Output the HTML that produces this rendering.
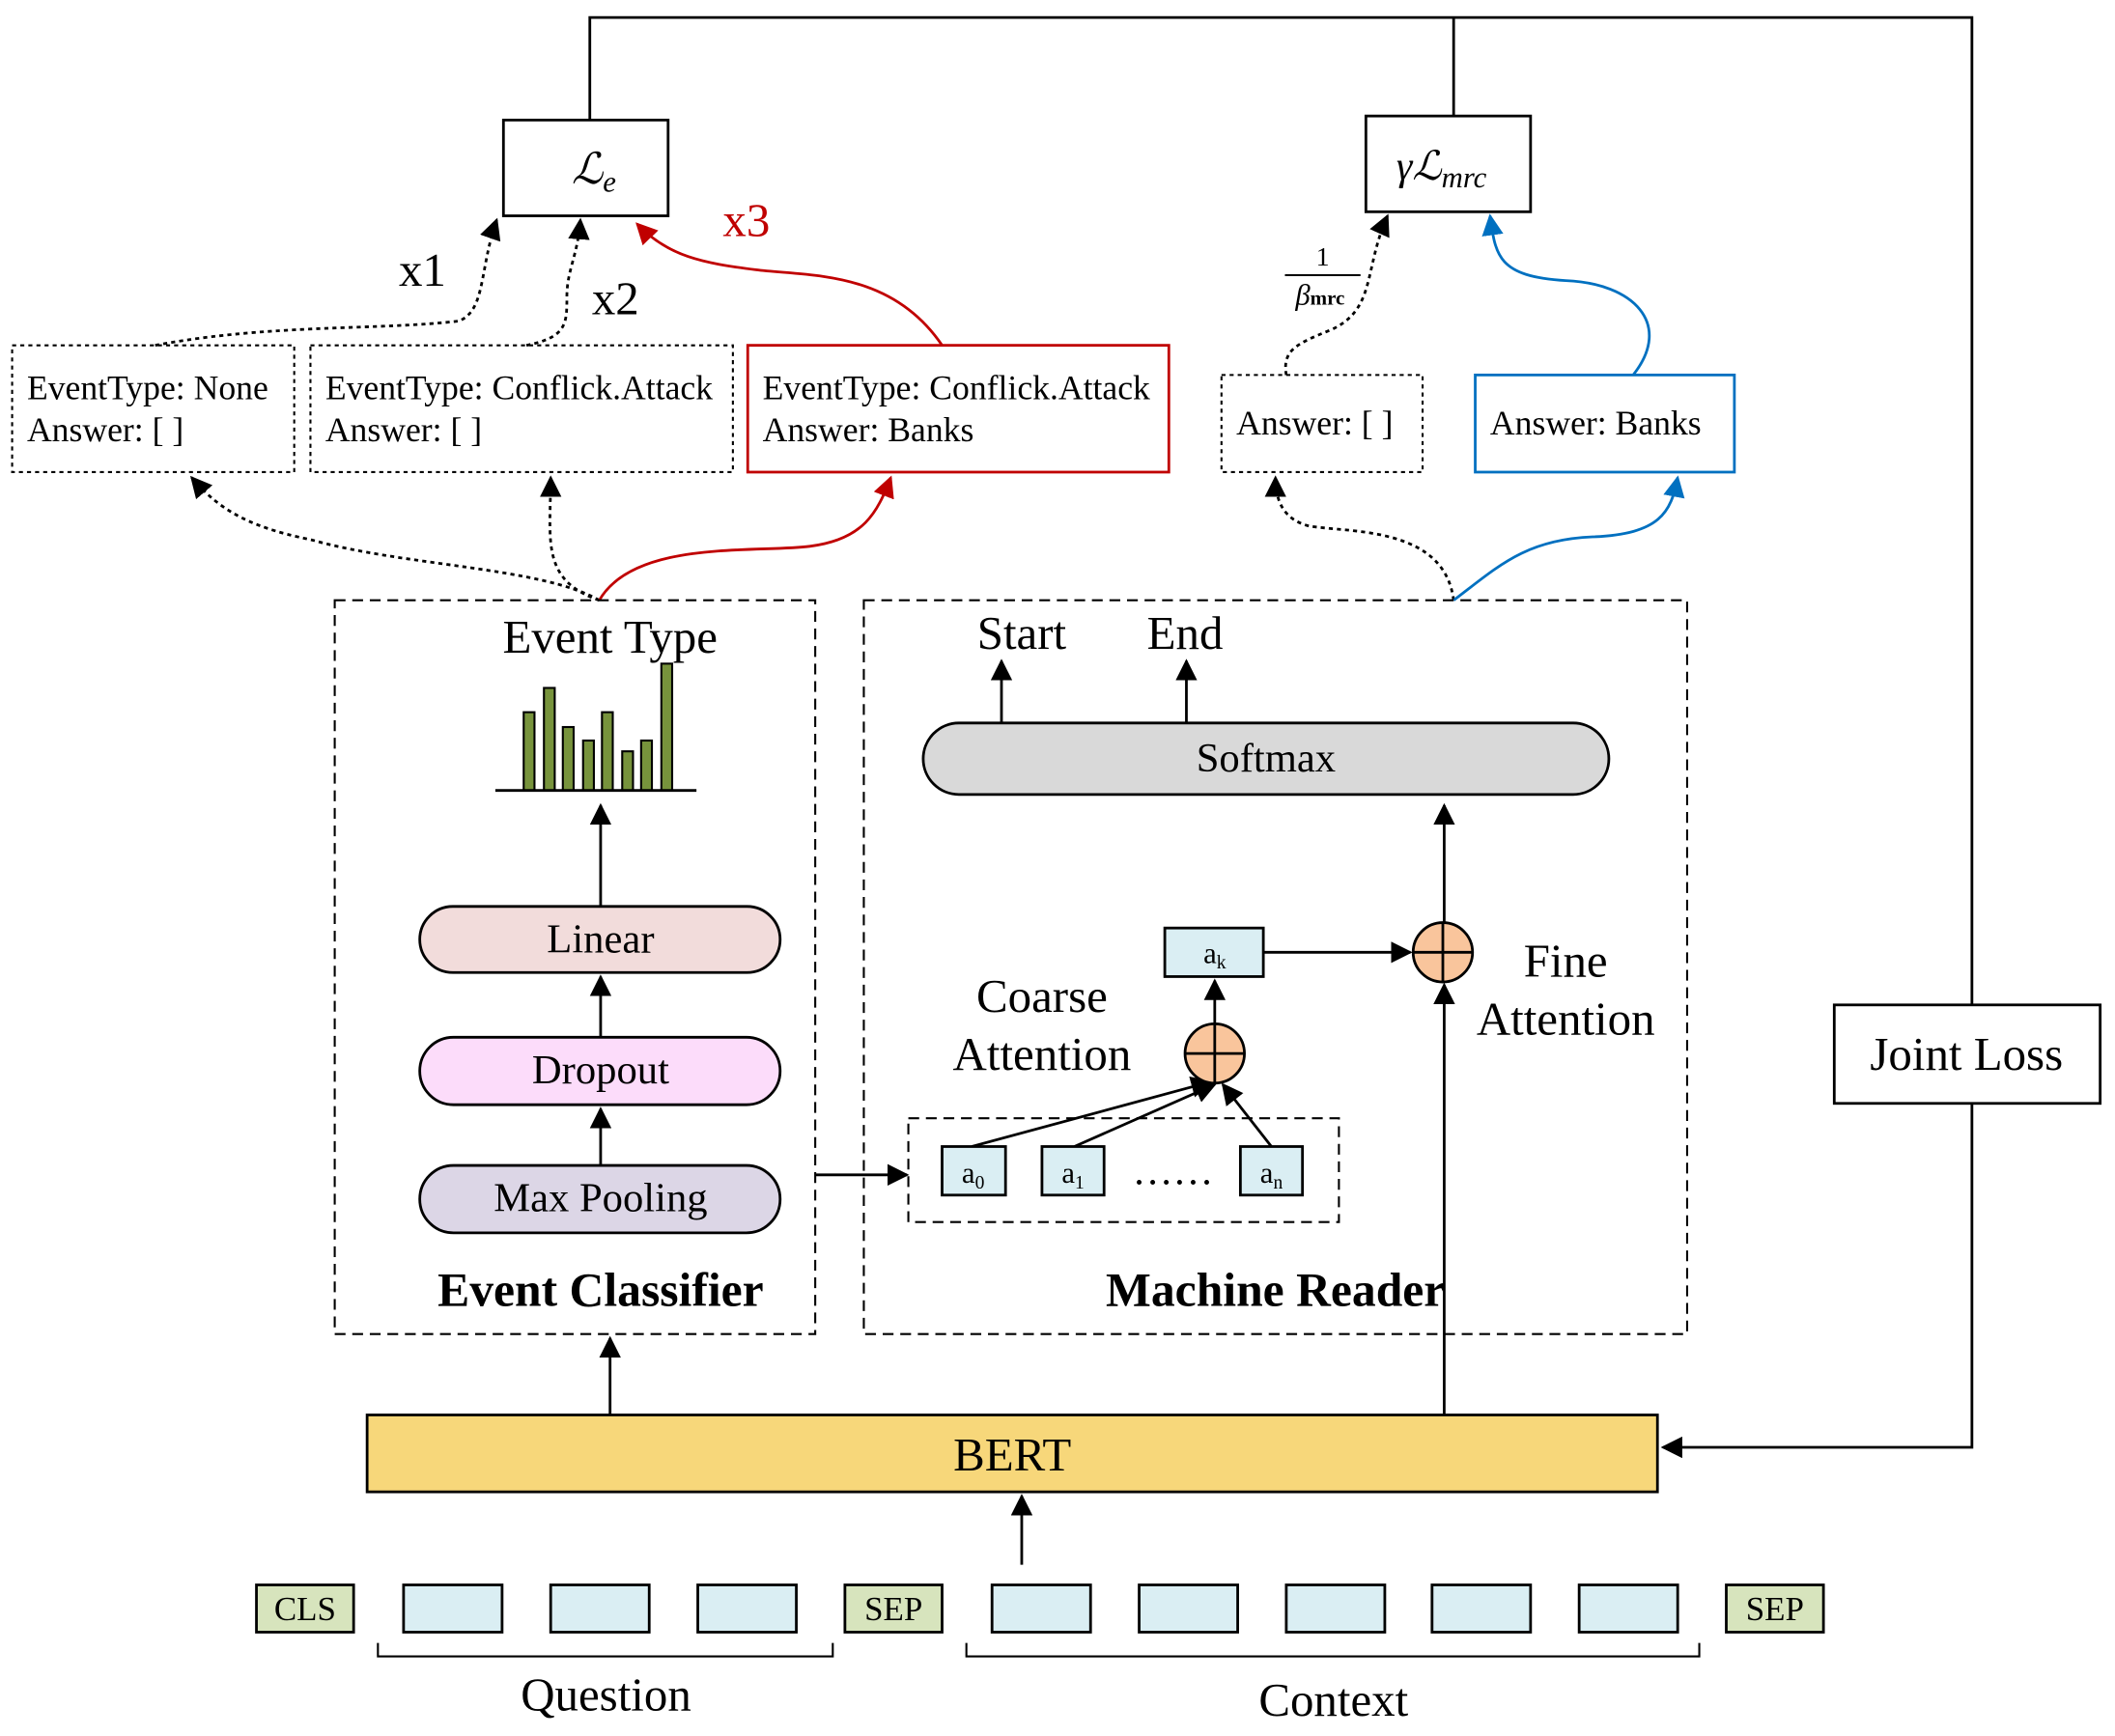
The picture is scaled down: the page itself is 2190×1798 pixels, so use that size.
<!DOCTYPE html>
<html><head><meta charset="utf-8"><style>html,body{margin:0;padding:0;background:#fff}svg{display:block}</style></head><body>
<svg width="2190" height="1798" viewBox="0 0 1567 1287" preserveAspectRatio="none" xmlns="http://www.w3.org/2000/svg" font-family="Liberation Serif, serif">
<defs>
<marker id="ab" viewBox="0 0 10 10" refX="9" refY="5" markerWidth="16" markerHeight="16" orient="auto" markerUnits="userSpaceOnUse"><path d="M0,0L10,5L0,10z" fill="#000"/></marker>
<marker id="ar" viewBox="0 0 10 10" refX="9" refY="5" markerWidth="16" markerHeight="16" orient="auto" markerUnits="userSpaceOnUse"><path d="M0,0L10,5L0,10z" fill="#c00000"/></marker>
<marker id="abl" viewBox="0 0 10 10" refX="9" refY="5" markerWidth="16" markerHeight="16" orient="auto" markerUnits="userSpaceOnUse"><path d="M0,0L10,5L0,10z" fill="#0070c0"/></marker>
</defs>
<g fill="none" stroke="#000" stroke-width="2">
<polyline points="437,89 437,13 1461,13 1461,745"/>
<line x1="1077" y1="86" x2="1077" y2="13"/>
<polyline points="1461,818 1461,1073 1232,1073" marker-end="url(#ab)"/>
</g>
<rect x="373" y="89" width="122" height="71" fill="#fff" stroke="#000" stroke-width="2"/>
<text x="440" y="136" font-size="32" font-style="italic" text-anchor="middle">ℒ<tspan font-size="22" dy="6">e</tspan></text>
<rect x="1012" y="86" width="122" height="71" fill="#fff" stroke="#000" stroke-width="2"/>
<text x="1068" y="133" font-size="30" font-style="italic" text-anchor="middle">γℒ<tspan font-size="22" dy="6">mrc</tspan></text>
<rect x="1359" y="745" width="197" height="73" fill="#fff" stroke="#000" stroke-width="2"/>
<text x="1457" y="793" font-size="35" text-anchor="middle">Joint Loss</text>
<g font-size="25.5">
<rect x="9" y="256" width="209" height="94" fill="#fff" stroke="#000" stroke-width="1.5" stroke-dasharray="3,3"/>
<text x="20" y="296">EventType: None</text><text x="20" y="327">Answer: [ ]</text>
<rect x="230" y="256" width="313" height="94" fill="#fff" stroke="#000" stroke-width="1.5" stroke-dasharray="3,3"/>
<text x="241" y="296">EventType: Conflick.Attack</text><text x="241" y="327">Answer: [ ]</text>
<rect x="554" y="256" width="312" height="94" fill="#fff" stroke="#c00000" stroke-width="2"/>
<text x="565" y="296">EventType: Conflick.Attack</text><text x="565" y="327">Answer: Banks</text>
<rect x="905" y="278" width="149" height="72" fill="#fff" stroke="#000" stroke-width="1.5" stroke-dasharray="3,3"/>
<text x="916" y="322">Answer: [ ]</text>
<rect x="1093" y="278" width="192" height="72" fill="#fff" stroke="#0070c0" stroke-width="2"/>
<text x="1104" y="322">Answer: Banks</text>
</g>
<g fill="none" stroke-width="2">
<path d="M115,256 C200,240 280,245 340,238 C360,230 355,200 368,163" stroke="#000" stroke-dasharray="3,3" marker-end="url(#ab)"/>
<path d="M390,256 C420,250 420,240 420,220 C420,200 428,190 430,163" stroke="#000" stroke-dasharray="3,3" marker-end="url(#ab)"/>
<path d="M698,256 C660,200 600,205 560,200 C520,195 495,190 472,166" stroke="#c00000" marker-end="url(#ar)"/>
<path d="M953,278 C950,260 960,255 985,245 C1020,230 1010,200 1028,160" stroke="#000" stroke-dasharray="3,3" marker-end="url(#ab)"/>
<path d="M1210,278 C1240,240 1210,210 1160,208 C1110,205 1108,190 1104,160" stroke="#0070c0" marker-end="url(#abl)"/>
<path d="M444,445 C400,420 300,420 230,400 C180,390 160,375 142,354" stroke="#000" stroke-dasharray="3,3" marker-end="url(#ab)"/>
<path d="M444,445 C400,430 408,400 408,354" stroke="#000" stroke-dasharray="3,3" marker-end="url(#ab)"/>
<path d="M444,445 C470,400 560,410 600,405 C640,400 650,380 660,354" stroke="#c00000" marker-end="url(#ar)"/>
<path d="M1077,445 C1070,390 1000,395 970,390 C950,385 945,370 945,354" stroke="#000" stroke-dasharray="3,3" marker-end="url(#ab)"/>
<path d="M1077,445 C1110,420 1130,400 1180,398 C1230,396 1238,380 1243,354" stroke="#0070c0" marker-end="url(#abl)"/>
</g>
<text x="313" y="212" font-size="35" text-anchor="middle">x1</text>
<text x="456" y="233" font-size="35" text-anchor="middle">x2</text>
<text x="553" y="175" font-size="35" fill="#c00000" text-anchor="middle">x3</text>
<text x="980" y="197" font-size="20" text-anchor="middle">1</text>
<line x1="952" y1="204" x2="1008" y2="204" stroke="#000" stroke-width="1.5"/>
<text x="978" y="226" font-size="22" font-style="italic" text-anchor="middle">β<tspan font-size="15" font-weight="bold" font-style="normal">mrc</tspan></text>
<rect x="248" y="445" width="356" height="544" fill="none" stroke="#000" stroke-width="1.5" stroke-dasharray="8,5"/>
<rect x="640" y="445" width="610" height="544" fill="none" stroke="#000" stroke-width="1.5" stroke-dasharray="8,5"/>
<text x="452" y="484" font-size="35" text-anchor="middle">Event Type</text>
<g fill="#77933c" stroke="#000" stroke-width="1.5">
<rect x="388" y="528" width="8" height="58"/><rect x="403" y="510" width="8" height="76"/><rect x="417" y="539" width="8" height="47"/><rect x="432" y="549" width="8" height="37"/><rect x="446" y="528" width="8" height="58"/><rect x="461" y="557" width="8" height="29"/><rect x="475" y="549" width="8" height="37"/><rect x="490" y="492" width="8" height="94"/>
</g>
<line x1="367" y1="586" x2="516" y2="586" stroke="#000" stroke-width="2"/>
<g stroke="#000" stroke-width="2" marker-end="url(#ab)">
<line x1="445" y1="672" x2="445" y2="597"/>
<line x1="445" y1="769" x2="445" y2="724"/>
<line x1="445" y1="864" x2="445" y2="822"/>
<line x1="452" y1="1049" x2="452" y2="992"/>
<line x1="757" y1="1160" x2="757" y2="1109"/>
<line x1="1070" y1="1049" x2="1070" y2="730"/>
<line x1="1070" y1="684" x2="1070" y2="597"/>
<line x1="742" y1="536" x2="742" y2="490"/>
<line x1="879" y1="536" x2="879" y2="490"/>
<line x1="900" y1="759" x2="900" y2="727"/>
<line x1="936" y1="706" x2="1045" y2="706"/>
<line x1="720" y1="850" x2="897" y2="802"/>
<line x1="796" y1="850" x2="900" y2="804"/>
<line x1="942" y1="850" x2="906" y2="804"/>
</g>
<polyline points="604,871 672,871" fill="none" stroke="#000" stroke-width="2" marker-end="url(#ab)"/>
<g font-size="30.5" text-anchor="middle">
<rect x="311" y="672" width="267" height="49" rx="24.5" fill="#f2dcdb" stroke="#000" stroke-width="2"/><text x="445" y="706">Linear</text>
<rect x="311" y="769" width="267" height="50" rx="25" fill="#fcdcfa" stroke="#000" stroke-width="2"/><text x="445" y="803">Dropout</text>
<rect x="311" y="864" width="267" height="50" rx="25" fill="#dcd6e6" stroke="#000" stroke-width="2"/><text x="445" y="898">Max Pooling</text>
<rect x="684" y="536" width="508" height="53" rx="26.5" fill="#d9d9d9" stroke="#000" stroke-width="2"/><text x="938" y="572">Softmax</text>
</g>
<text x="445" y="968" font-size="35.5" font-weight="bold" text-anchor="middle">Event Classifier</text>
<text x="945" y="968" font-size="35.5" font-weight="bold" text-anchor="middle">Machine Reader</text>
<text x="757" y="481" font-size="35" text-anchor="middle">Start</text>
<text x="878" y="481" font-size="35" text-anchor="middle">End</text>
<text x="772" y="750" font-size="35" text-anchor="middle">Coarse</text>
<text x="772" y="793" font-size="35" text-anchor="middle">Attention</text>
<text x="1160" y="724" font-size="35" text-anchor="middle">Fine</text>
<text x="1160" y="767" font-size="35" text-anchor="middle">Attention</text>
<rect x="863" y="688" width="73" height="36" fill="#daeef3" stroke="#000" stroke-width="2"/>
<text x="900" y="714" font-size="22" text-anchor="middle">a<tspan font-size="14" dy="4">k</tspan></text>
<g fill="#f9c59c" stroke="#000" stroke-width="2">
<circle cx="900" cy="781" r="22"/><circle cx="1069" cy="706" r="22"/>
</g>
<g stroke="#000" stroke-width="2"><line x1="878" y1="781" x2="922" y2="781"/><line x1="900" y1="759" x2="900" y2="803"/><line x1="1047" y1="706" x2="1091" y2="706"/><line x1="1069" y1="684" x2="1069" y2="728"/></g>
<rect x="673" y="829" width="319" height="77" fill="none" stroke="#000" stroke-width="1.5" stroke-dasharray="8,5"/>
<g fill="#daeef3" stroke="#000" stroke-width="2">
<rect x="698" y="850" width="47" height="36"/><rect x="772" y="850" width="46" height="36"/><rect x="919" y="850" width="46" height="36"/>
</g>
<g font-size="22" text-anchor="middle">
<text x="721" y="877">a<tspan font-size="14" dy="4">0</tspan></text>
<text x="795" y="877">a<tspan font-size="14" dy="4">1</tspan></text>
<text x="942" y="877">a<tspan font-size="14" dy="4">n</tspan></text>
</g>
<text x="869" y="878" font-size="30" text-anchor="middle">……</text>
<rect x="272" y="1049" width="956" height="57" fill="#f7d77a" stroke="#000" stroke-width="2"/>
<text x="750" y="1090" font-size="35" text-anchor="middle">BERT</text>
<g stroke="#000" stroke-width="2">
<rect x="190" y="1175" width="72" height="35" fill="#d7e4bd"/>
<rect x="299" y="1175" width="73" height="35" fill="#daeef3"/><rect x="408" y="1175" width="73" height="35" fill="#daeef3"/><rect x="517" y="1175" width="73" height="35" fill="#daeef3"/>
<rect x="626" y="1175" width="72" height="35" fill="#d7e4bd"/>
<rect x="735" y="1175" width="73" height="35" fill="#daeef3"/><rect x="844" y="1175" width="73" height="35" fill="#daeef3"/><rect x="953" y="1175" width="73" height="35" fill="#daeef3"/><rect x="1061" y="1175" width="73" height="35" fill="#daeef3"/><rect x="1170" y="1175" width="73" height="35" fill="#daeef3"/>
<rect x="1279" y="1175" width="72" height="35" fill="#d7e4bd"/>
</g>
<g font-size="25" text-anchor="middle"><text x="226" y="1201">CLS</text><text x="662" y="1201">SEP</text><text x="1315" y="1201">SEP</text></g>
<g fill="none" stroke="#000" stroke-width="1.5">
<polyline points="280,1218 280,1228 617,1228 617,1218"/>
<polyline points="716,1218 716,1228 1259,1228 1259,1218"/>
</g>
<text x="449" y="1268" font-size="35" text-anchor="middle">Question</text>
<text x="988" y="1272" font-size="35" text-anchor="middle">Context</text>
</svg>
</body></html>
